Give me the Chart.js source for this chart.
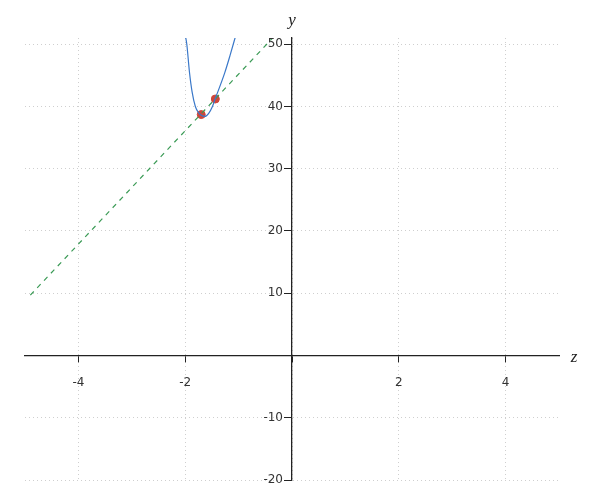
<!DOCTYPE html>
<html>
<head>
<meta charset="utf-8">
<script src="https://cdn.jsdelivr.net/npm/chart.js@4"></script>
<style>
  html, body { margin: 0; padding: 0; background: #fff; }
  #wrap { width: 600px; height: 500px; }
</style>
</head>
<body>
<div id="wrap"><canvas id="chart"></canvas></div>
<script>
// curve samples
const curveX = [-2.00, -1.97, -1.92, -1.87, -1.81, -1.75, -1.70, -1.63, -1.56, -1.49, -1.44, -1.40, -1.26, -1.16, -1.05];
const curveY = [51.5, 50.0, 45.5, 42.3, 40.0, 39.0, 38.6, 38.4, 38.9, 40.0, 41.2, 42.1, 45.4, 48.2, 51.5];

// dashed line end points
const lineX = [-4.9, 0];
const lineY = [9.7, 54.3];

// the two marked points
const markX = [-1.70, -1.436];
const markY = [38.7, 41.2];

const xTicks = [-4, -2, 0, 2, 4];
const yTicks = [-20, -10, 0, 10, 20, 30, 40, 50];

const toPts = (xs, ys) => xs.map((x, i) => ({ x: x, y: ys[i] }));

// axis names + y tick labels (chart.js puts centred-axis labels right on the line)
const axisNames = {
  id: 'axisNames',
  afterDraw(chart) {
    const ctx = chart.ctx;
    const xs = chart.scales.x, ys = chart.scales.y;
    const x0 = xs.getPixelForValue(0);
    ctx.save();
    ctx.fillStyle = '#333';
    ctx.font = '12px "DejaVu Sans"';
    ctx.textAlign = 'right';
    ctx.textBaseline = 'middle';
    yTicks.forEach(v => {
      if (v !== 0) ctx.fillText(String(v), x0 - 9, ys.getPixelForValue(v));
    });
    ctx.fillStyle = '#222';
    ctx.font = 'italic 17px "Liberation Serif"';
    ctx.textAlign = 'center';
    ctx.fillText('y', x0, 21);
    ctx.fillText('z', 574, ys.getPixelForValue(0) + 2);
    ctx.restore();
  }
};

new Chart(document.getElementById('chart'), {
  type: 'scatter',
  data: {
    datasets: [
      {
        data: toPts(curveX, curveY),
        showLine: true,
        borderColor: '#3a78c9',
        borderWidth: 1.2,
        pointRadius: 0,
        cubicInterpolationMode: 'monotone'
      },
      {
        data: toPts(lineX, lineY),
        showLine: true,
        borderColor: '#3a9a55',
        borderWidth: 1.2,
        borderDash: [5, 5],
        pointRadius: 0
      },
      {
        data: toPts(markX, markY),
        showLine: false,
        backgroundColor: '#d0463a',
        borderColor: '#d0463a',
        pointRadius: 4
      }
    ]
  },
  options: {
    responsive: true,
    maintainAspectRatio: false,
    animation: false,
    layout: { padding: { left: 25, right: 41, top: 38, bottom: 20 } },
    plugins: {
      legend: { display: false },
      tooltip: { enabled: false }
    },
    scales: {
      x: {
        type: 'linear',
        min: -5,
        max: 5,
        position: { y: 0 },
        afterBuildTicks: (axis) => { axis.ticks = xTicks.map(v => ({ value: v })); },
        ticks: {
          padding: 14,
          color: '#333',
          font: { family: 'DejaVu Sans', size: 12 },
          callback: (v) => v === 0 ? '' : v
        },
        grid: {
          color: '#cfcfcf',
          lineWidth: 1,
          tickColor: '#222',
          tickLength: 6,
          tickBorderDash: []
        },
        border: { color: '#222', width: 1.3, dash: [1, 3] }
      },
      y: {
        type: 'linear',
        min: -20,
        max: 51,
        position: { x: 0 },
        afterBuildTicks: (axis) => { axis.ticks = yTicks.map(v => ({ value: v })); },
        ticks: {
          padding: 2,
          color: 'rgba(0,0,0,0)',
          font: { family: 'DejaVu Sans', size: 12 }
        },
        grid: {
          color: '#cfcfcf',
          lineWidth: 1,
          tickColor: '#222',
          tickLength: 7,
          tickBorderDash: []
        },
        border: { color: '#222', width: 1.3, dash: [1, 3] }
      }
    }
  },
  plugins: [axisNames]
});
</script>
</body>
</html>
